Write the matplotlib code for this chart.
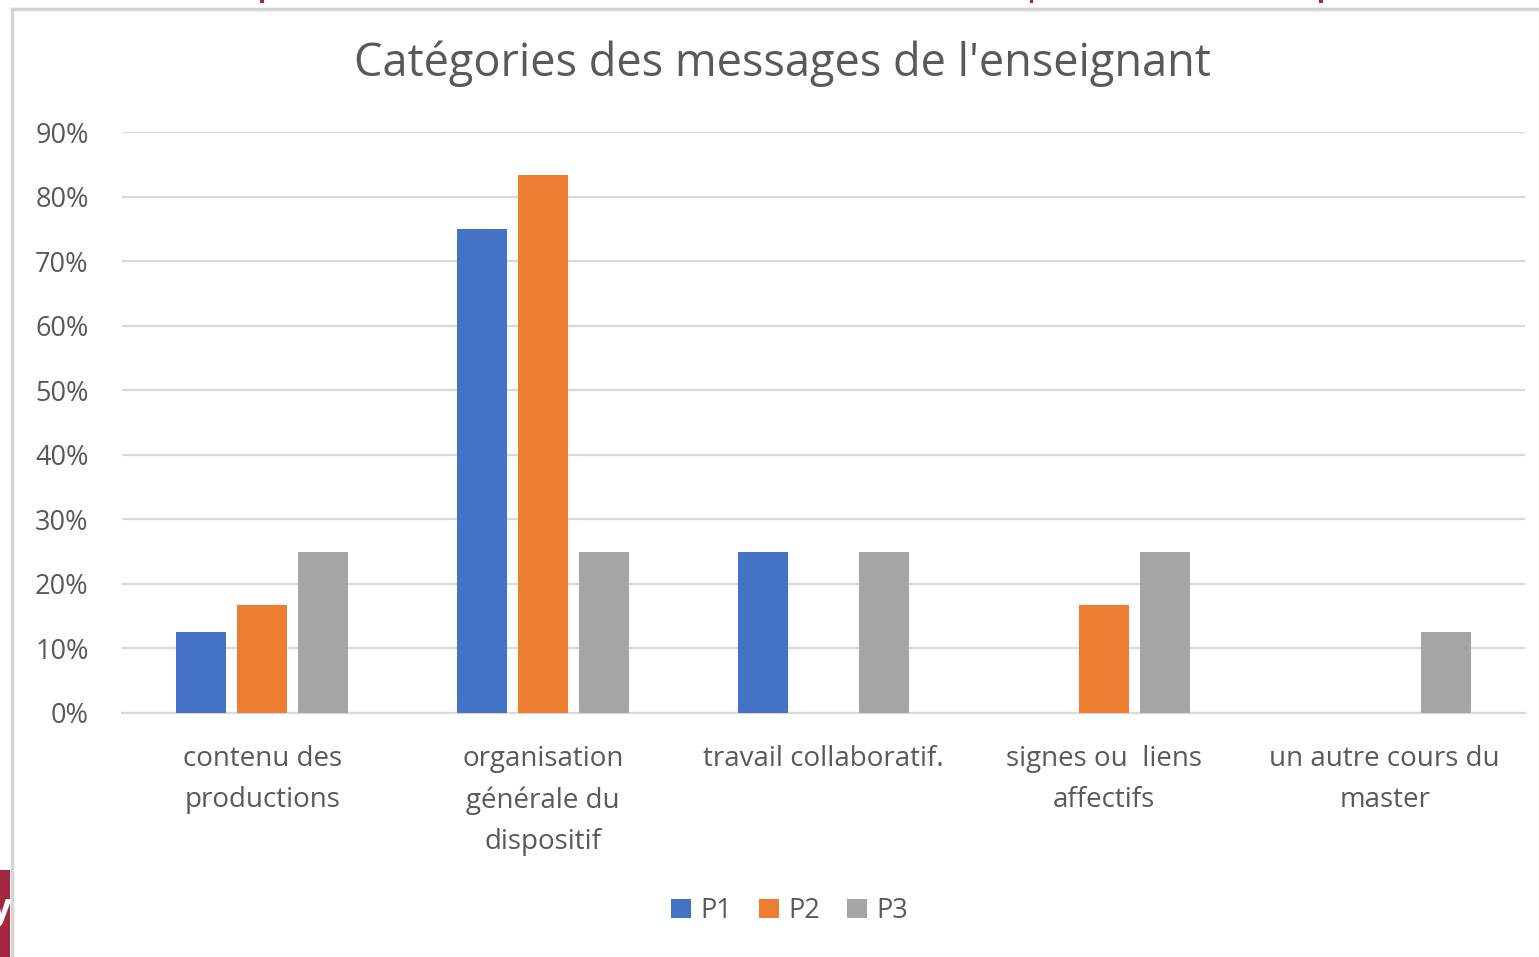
import numpy as np
import matplotlib.pyplot as plt
from matplotlib.lines import Line2D
from matplotlib.patches import Rectangle
from matplotlib.ticker import PercentFormatter

# Data
categories = ["contenu des\nproductions",
              "organisation\ngénérale du\ndispositif",
              "travail collaboratif.",
              "signes ou  liens\naffectifs",
              "un autre cours du\nmaster"]
series_names = ["P1", "P2", "P3"]
p1 = [0.125, 0.75, 0.25, 0.0, 0.0]
p2 = [0.167, 0.833, 0.0, 0.167, 0.0]
p3 = [0.25, 0.25, 0.25, 0.25, 0.125]
colors = ["#4472C4", "#ED7D31", "#A5A5A5"]
yticks = np.arange(0, 0.91, 0.1)

text_color = "#595959"
font = "Open Sans"

fig = plt.figure(figsize=(15.39, 9.57), dpi=100)
ax = fig.add_axes([0.0793, 0.255, 0.9116, 0.607])

x = np.arange(len(categories))
width = 0.178
step = 0.217
for i, (vals, name, col) in enumerate(zip([p1, p2, p3], series_names, colors)):
    ax.bar(x + (i - 1) * step, vals, width, color=col, label=name, zorder=3)

ax.set_xlim(-0.5, len(categories) - 0.5)
ax.set_ylim(0, 0.9)
ax.set_yticks(yticks)
ax.yaxis.set_major_formatter(PercentFormatter(1.0, decimals=0))
ax.grid(axis="y", color="#D9D9D9", linewidth=1.6, zorder=0)
for s in ["top", "right", "left"]:
    ax.spines[s].set_visible(False)
ax.spines["bottom"].set_color("#D9D9D9")
ax.spines["bottom"].set_linewidth(1.6)

ax.set_xticks(x)
ax.set_xticklabels(categories, fontsize=20, color=text_color, family=font,
                   linespacing=1.62, va="top")
ax.tick_params(axis="x", length=0, pad=23)
ax.tick_params(axis="y", length=0, pad=24, labelsize=19.5, labelcolor=text_color)
for lab in ax.get_yticklabels():
    lab.set_family(font)

fig.text(0.5085, 0.933, "Catégories des messages de l'enseignant", ha="center",
         va="center", fontsize=32.5, color=text_color, family=font)

leg = fig.legend(loc="center", bbox_to_anchor=(0.513, 0.048), ncol=3, frameon=False,
                 prop={"family": font, "size": 19.5}, handlelength=0.72,
                 handleheight=0.72, handletextpad=0.35, columnspacing=1.0,
                 labelcolor=text_color)

# chart frame and screenshot edges
fig.add_artist(Line2D([0.0078, 0.0078], [0, 0.991], transform=fig.transFigure,
                      color="#D4D4D4", linewidth=2.5))
fig.add_artist(Line2D([0.0078, 1.0], [0.991, 0.991], transform=fig.transFigure,
                      color="#D4D4D4", linewidth=2.5))
fig.add_artist(Rectangle((0, 0), 0.0065, 0.091, transform=fig.transFigure,
                         color="#A3283F", linewidth=0))
# partial letter on the slide edge, cut off as in the reference
fig.text(-0.006, 0.04, "y", color="white", fontsize=26, family=font, fontweight="bold")
for xm in [0.169, 0.669, 0.857]:
    fig.add_artist(Rectangle((xm, 0.9965), 0.0025, 0.0035, transform=fig.transFigure,
                             color="#A3283F", linewidth=0))

fig.savefig("out.png", dpi=100)
